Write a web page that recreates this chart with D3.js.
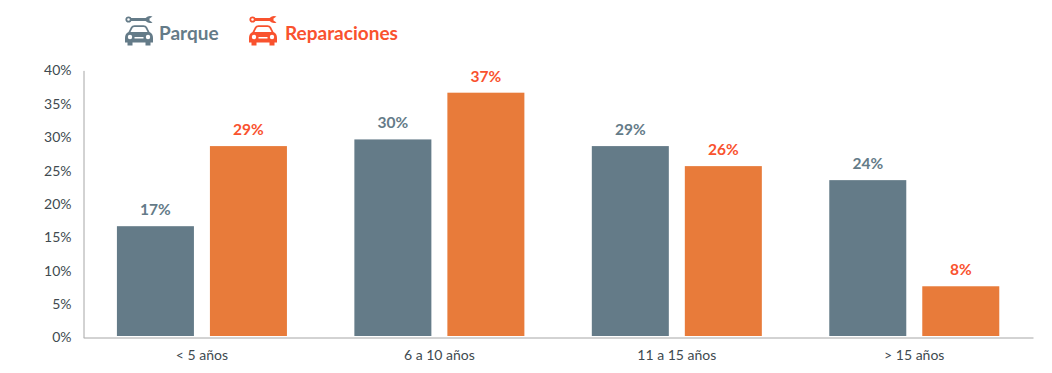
<!DOCTYPE html>
<html>
<head>
<meta charset="utf-8">
<script src="https://cdn.jsdelivr.net/npm/d3@7"></script>
<style>
  html, body { margin: 0; padding: 0; background: #fff; }
  svg { display: block; font-family: Lato, "Open Sans", sans-serif; }
</style>
</head>
<body>
<div id="chart"></div>
<script>
const categories = ["< 5 años", "6 a 10 años", "11 a 15 años", "> 15 años"];
const seriesNames = ["Parque", "Reparaciones"];
const parque = [16.6, 29.6, 28.6, 23.5];
const reparaciones = [28.6, 36.6, 25.6, 7.6];
const yTicks = [0, 5, 10, 15, 20, 25, 30, 35, 40];

const barColors = { Parque: "#647b88", Reparaciones: "#e87b3a" };
const labelColors = { Parque: "#647b88", Reparaciones: "#f9522e" };

const width = 1052;
const height = 373;
const margin = { top: 70, right: 19, bottom: 36, left: 83.2 };

const svg = d3.select("#chart")
  .append("svg")
  .attr("width", width)
  .attr("height", height);

const x0 = d3.scaleBand()
  .domain(categories)
  .range([margin.left, width - margin.right])
  .paddingInner(0.284)
  .paddingOuter(0.142);

const x1 = d3.scaleBand()
  .domain(seriesNames)
  .range([0, x0.bandwidth()])
  .paddingInner(0.172);

const y = d3.scaleLinear()
  .domain([0, 40])
  .range([height - margin.bottom, margin.top]);

// bars and value labels
seriesNames.forEach((name, s) => {
  const values = s === 0 ? parque : reparaciones;
  const g = svg.append("g");

  g.selectAll("rect")
    .data(values)
    .enter()
    .append("rect")
    .attr("x", (d, i) => x0(categories[i]) + x1(name))
    .attr("y", d => y(d))
    .attr("width", x1.bandwidth())
    .attr("height", d => y(0) - y(d) - 1)
    .attr("fill", barColors[name]);

  g.selectAll("text")
    .data(values)
    .enter()
    .append("text")
    .attr("x", (d, i) => x0(categories[i]) + x1(name) + x1.bandwidth() / 2)
    .attr("y", d => y(d) - 11)
    .attr("text-anchor", "middle")
    .style("font-size", "15.5px")
    .style("font-weight", "700")
    .style("fill", labelColors[name])
    .text(d => Math.round(d) + "%");
});

// axes
const yAxis = svg.append("g")
  .attr("transform", `translate(83.5,0.4)`)
  .call(d3.axisLeft(y).tickValues(yTicks).tickSize(0).tickPadding(12).tickFormat(d => d + "%"));

const xAxis = svg.append("g")
  .attr("transform", `translate(0,${y(0) + 0.5})`)
  .call(d3.axisBottom(x0).tickSize(0).tickPadding(12.5));

[yAxis, xAxis].forEach(a => {
  a.select(".domain").attr("stroke", "#a6a6a6").attr("stroke-width", 1);
  a.selectAll("text")
    .style("font-family", 'Lato, "Open Sans", sans-serif')
    .style("fill", "#404a50");
});
yAxis.selectAll("text").style("font-size", "14px");
xAxis.selectAll("text").style("font-size", "14px");

// legend, wrench + car icon then the name
function drawIcon(g, color) {
  g.append("line")
    .attr("x1", 5).attr("y1", 3.5).attr("x2", 22).attr("y2", 3.5)
    .attr("stroke", color).attr("stroke-width", 3);
  g.append("circle")
    .attr("cx", 3.5).attr("cy", 3.5).attr("r", 2.2)
    .attr("fill", "#fff").attr("stroke", color).attr("stroke-width", 1.8);
  g.append("path")
    .attr("d", "M27.5 0.6 A5 4 0 0 0 20 3.5 A5 4 0 0 0 27.5 6.4 L24.5 4.6 L24.5 2.4 Z")
    .attr("fill", color);
  g.append("path")
    .attr("d", "M0 22 Q0 17.5 3.5 16 L6 11 Q7 9.3 9.5 9.3 L18.5 9.3 Q21 9.3 22 11 L24.5 16 Q28 17.5 28 22 L28 26.5 L25.5 26.5 L25.5 29.5 L20.5 29.5 L20.5 26.5 L7.5 26.5 L7.5 29.5 L2.5 29.5 L2.5 26.5 L0 26.5 Z")
    .attr("fill", color);
  g.append("path")
    .attr("d", "M5.5 16 L7.8 11.6 Q8.3 11 9.5 11 L18.5 11 Q19.7 11 20.2 11.6 L22.5 16 Z")
    .attr("fill", "#fff");
  g.append("circle").attr("cx", 5).attr("cy", 21).attr("r", 2.2).attr("fill", "#fff");
  g.append("circle").attr("cx", 23).attr("cy", 21).attr("r", 2.2).attr("fill", "#fff");
  g.append("rect").attr("x", 9.5).attr("y", 21).attr("width", 9).attr("height", 1.5).attr("fill", "#fff");
}

const legendX = [125, 249];
seriesNames.forEach((name, i) => {
  const g = svg.append("g").attr("transform", `translate(${legendX[i]},16)`);
  drawIcon(g, labelColors[name]);
  g.append("text")
    .attr("x", i === 0 ? 34 : 36)
    .attr("y", 24)
    .style("font-size", "19px")
    .style("font-weight", "700")
    .style("fill", labelColors[name])
    .text(name);
});
</script>
</body>
</html>
